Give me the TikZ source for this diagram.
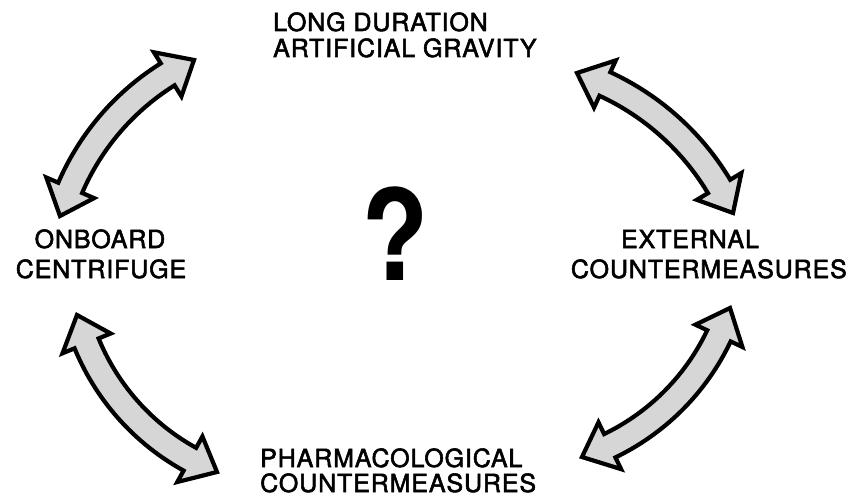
\documentclass[tikz,border=0pt]{standalone}
\usepackage{fontspec}
\setmainfont{TeX Gyre Heros}[LetterSpace=3.5, FakeBold=2.2]
\newfontfamily\qfont{TeX Gyre Heros}
\tikzset{
  lbl/.style={inner sep=0pt, font=\fontsize{25}{29}\selectfont},
  barrow/.style={draw=black, line width=4.2pt, line join=miter, fill=black!16},
}
% tips (x1,y1),(x2,y2) in pixels (y down), sagitta #5 (bulge to the left of 1->2, y-down)
\newcommand\blockarrow[5]{%
  \pgfmathsetmacro\baAx{#1/100}\pgfmathsetmacro\baAy{#2/100}%
  \pgfmathsetmacro\baBx{#3/100}\pgfmathsetmacro\baBy{#4/100}%
  \pgfmathsetmacro\baS{#5/100}%
  \pgfmathsetmacro\baDx{\baBx-\baAx}\pgfmathsetmacro\baDy{\baBy-\baAy}%
  \pgfmathsetmacro\baL{sqrt(\baDx*\baDx+\baDy*\baDy)}%
  \pgfmathsetmacro\baNx{-\baDy/\baL}\pgfmathsetmacro\baNy{\baDx/\baL}%
  \pgfmathsetmacro\baRR{(\baL*\baL/4+\baS*\baS)/(2*\baS)}%
  \pgfmathsetmacro\baCx{100*((\baAx+\baBx)/2-(\baRR-\baS)*\baNx)}%
  \pgfmathsetmacro\baCy{100*((\baAy+\baBy)/2-(\baRR-\baS)*\baNy)}%
  \pgfmathsetmacro\baR{100*\baRR}%
  \pgfmathsetmacro\baa{atan2(#2-\baCy,#1-\baCx)}%
  \pgfmathsetmacro\bab{atan2(#4-\baCy,#3-\baCx)}%
  \pgfmathsetmacro\bab{\bab+((\bab-\baa)>180 ? -360 : ((\baa-\bab)>180 ? 360 : 0))}%
  \pgfmathsetmacro\bahd{deg(30/\baR)*sign(\bab-\baa)}%
  \pgfmathsetmacro\bata{\baa+\bahd}\pgfmathsetmacro\batb{\bab-\bahd}%
  \pgfmathsetmacro\baro{\baR+13}\pgfmathsetmacro\bari{\baR-13}%
  \pgfmathsetmacro\baho{\baR+26}\pgfmathsetmacro\bahi{\baR-26}%
  \begin{scope}[shift={(\baCx,\baCy)}]
    \filldraw[barrow] (\baa:\baR) -- (\bata:\baho) -- (\bata:\baro)
      -- plot[domain=\bata:\batb, samples=40] (\x:\baro)
      -- (\batb:\baho) -- (\bab:\baR) -- (\batb:\bahi) -- (\batb:\bari)
      -- plot[domain=\batb:\bata, samples=40] (\x:\bari)
      -- (\bata:\bahi) -- cycle;
  \end{scope}%
}
\begin{document}
\begin{tikzpicture}[x=1pt, y=-1pt]
\useasboundingbox (0,0) rectangle (851,500);
% labels
\node[lbl, anchor=base west] (top1) at (273,31) {LONG DURATION};
\node[lbl, anchor=base west] (top2) at (273,57) {ARTIFICIAL GRAVITY};
\node[lbl, anchor=base] (left1) at (100,248) {ONBOARD};
\node[lbl, anchor=base] (left2) at (101,278) {CENTRIFUGE};
\node[lbl, anchor=base] (right1) at (690,248) {EXTERNAL};
\node[lbl, anchor=base east] (right2) at (847,278) {COUNTERMEASURES};
\node[lbl, anchor=base west] (bot1) at (260,467) {PHARMACOLOGICAL};
\node[lbl, anchor=base west] (bot2) at (260,492) {COUNTERMEASURES};
% question mark
\node[inner sep=0pt, anchor=base, yscale=1.05, xscale=0.92] (q) at (395,280) {\qfont\bfseries\fontsize{120}{120}\selectfont ?};
% curved double-headed block arrows
\blockarrow{194}{60}{60}{216}{22}
\blockarrow{733}{213}{577}{73}{22}
\blockarrow{77}{315}{217}{472}{25}
\blockarrow{582}{457}{730}{308}{25}
\end{tikzpicture}
\end{document}
